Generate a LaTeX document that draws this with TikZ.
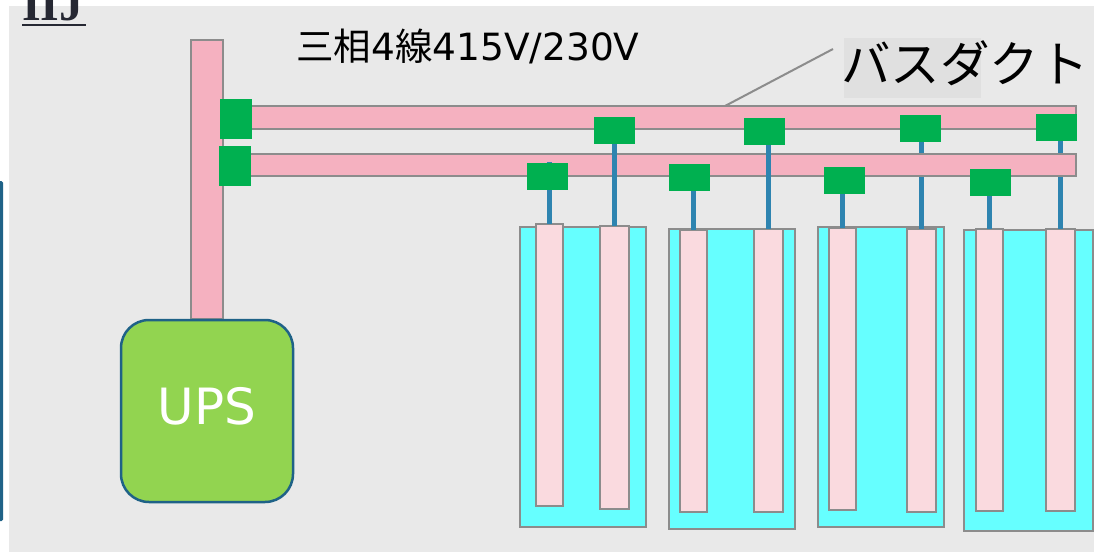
\documentclass[tikz,border=0pt]{standalone}
\usepackage{fontspec}
\setmainfont{DejaVu Sans}
\newfontfamily\cjk{Noto Sans CJK JP}
\newfontfamily\titlefont{Liberation Serif}
\definecolor{panel}{HTML}{E9E9E9}
\definecolor{shade}{HTML}{E0E0E0}
\definecolor{edge}{HTML}{8C8C8C}
\definecolor{duct}{HTML}{F5B1C0}
\definecolor{breaker}{HTML}{FADADF}
\definecolor{rack}{HTML}{66FFFF}
\definecolor{tap}{HTML}{00B050}
\definecolor{feed}{HTML}{2E84B0}
\definecolor{upsgreen}{HTML}{92D450}
\definecolor{navy}{HTML}{1F6287}
\definecolor{titleink}{HTML}{262833}

\begin{document}
\begin{tikzpicture}[
		x=1pt, y=-1pt,
		box/.style 2 args={rectangle,anchor=north west,inner sep=0pt,outer sep=0pt,
		minimum width=#1,minimum height=#2},
		bus/.style={draw=edge,fill=duct,line width=2.6pt},
		rackbox/.style={draw=edge,fill=rack,line width=2.6pt},
		brk/.style={draw=edge,fill=breaker,line width=2.6pt},
		tapbox/.style={fill=tap},
		stem/.style={draw=feed,line width=5pt},
		leader/.style={draw=edge,line width=2pt}
		]
		\useasboundingbox (0,0) rectangle (1094,552);
		\fill[white] (0,0) rectangle (1094,552);
		\fill[panel] (9,6) rectangle (1094,552);
		\fill[navy, rounded corners=1.5pt] (-3,181) rectangle (3,521);

		\node[anchor=base west, inner sep=0pt, text=titleink, 
			font=\titlefont\bfseries\fontsize{48}{48}\selectfont] (title) at (22,20) {IIJ};
		\draw[titleink, line width=2pt] ([yshift=-5pt]title.base west) -- 
			([xshift=2pt,yshift=-5pt]title.base east);

		% racks
		\node[rackbox, box={126pt}{300pt}] (r1) at (520,227) {};
		\node[rackbox, box={126pt}{300pt}] (r2) at (669,229) {};
		\node[rackbox, box={126pt}{300pt}] (r3) at (818,227) {};
		\node[rackbox, box={129pt}{301pt}] (r4) at (964,230) {};

		\node[brk, box={27pt}{282pt}] (b1) at (536,224) {};
		\node[brk, box={29pt}{283pt}] (b2) at (600,226) {};
		\node[brk, box={27pt}{282pt}] (b3) at (680,230) {};
		\node[brk, box={29pt}{283pt}] (b4) at (754,229) {};
		\node[brk, box={27pt}{282pt}] (b5) at (829,228) {};
		\node[brk, box={29pt}{283pt}] (b6) at (907,229) {};
		\node[brk, box={27pt}{282pt}] (b7) at (976,229) {};
		\node[brk, box={29pt}{282pt}] (b8) at (1046,229) {};

		% busbars
		\node[bus, box={32pt}{279pt}] (vbus) at (191,40) {};
		\node[bus, box={853pt}{23pt}] (bus1) at (223,106) {};

		\node[tapbox, box={41pt}{27pt}] (g6) at (900,115) {};
		\node[tapbox, box={41pt}{27pt}] (g8) at (1036,114) {};
		\draw[stem] (b6.north |- g6.south) -- (b6.north);
		\draw[stem] (b8.north |- g8.south) -- (b8.north);

		\node[bus, box={853pt}{22pt}] (bus2) at (223,154) {};

		\node[tapbox, box={32pt}{40pt}] (m1) at (220,99) {};
		\node[tapbox, box={32pt}{40pt}] (m2) at (219,146) {};

		\coordinate (tip1) at (548,162);
		\draw[stem] (b1.north |- tip1) -- (b1.north);
		\node[tapbox, box={41pt}{27pt}] (g1) at (527,163) {};
		\node[tapbox, box={41pt}{27pt}] (g2) at (594,117) {};
		\node[tapbox, box={41pt}{27pt}] (g3) at (669,164) {};
		\node[tapbox, box={41pt}{27pt}] (g4) at (744,118) {};
		\node[tapbox, box={41pt}{27pt}] (g5) at (824,167) {};
		\node[tapbox, box={41pt}{27pt}] (g7) at (970,169) {};
		\draw[stem] (b2.north |- g2.south) -- (b2.north);
		\draw[stem] (b3.north |- g3.south) -- (b3.north);
		\draw[stem] (b4.north |- g4.south) -- (b4.north);
		\draw[stem] (b5.north |- g5.south) -- (b5.north);
		\draw[stem] (b7.north |- g7.south) -- (b7.north);

		\node[box={172pt}{182pt}, draw=navy, fill=upsgreen, line width=2.5pt, 
			rounded corners=28pt] (ups) at (121,320) {};
		\node[text=white, inner sep=0pt, font=\fontsize{50}{50}\selectfont] (upstext) at (207,406) {UPS};

		% labels
		\node[anchor=west, inner sep=0pt, font=\fontsize{37.5}{38}\selectfont] (volt) at (296,46) 
			{{\cjk 三相}4{\cjk 線}415V/230V};
		\node[box={137pt}{60pt}, fill=shade] (hl) at (844,38) {};
		\node[anchor=west, inner sep=0pt, font=\cjk\fontsize{49.5}{50}\selectfont] (ductname) at (841,63) {バスダクト};
		\coordinate (leadtop) at (833,49);
		\coordinate (leadfoot) at (725,106);
		\draw[leader] (leadtop) -- (leadfoot);
	\end{tikzpicture}
\end{document}
